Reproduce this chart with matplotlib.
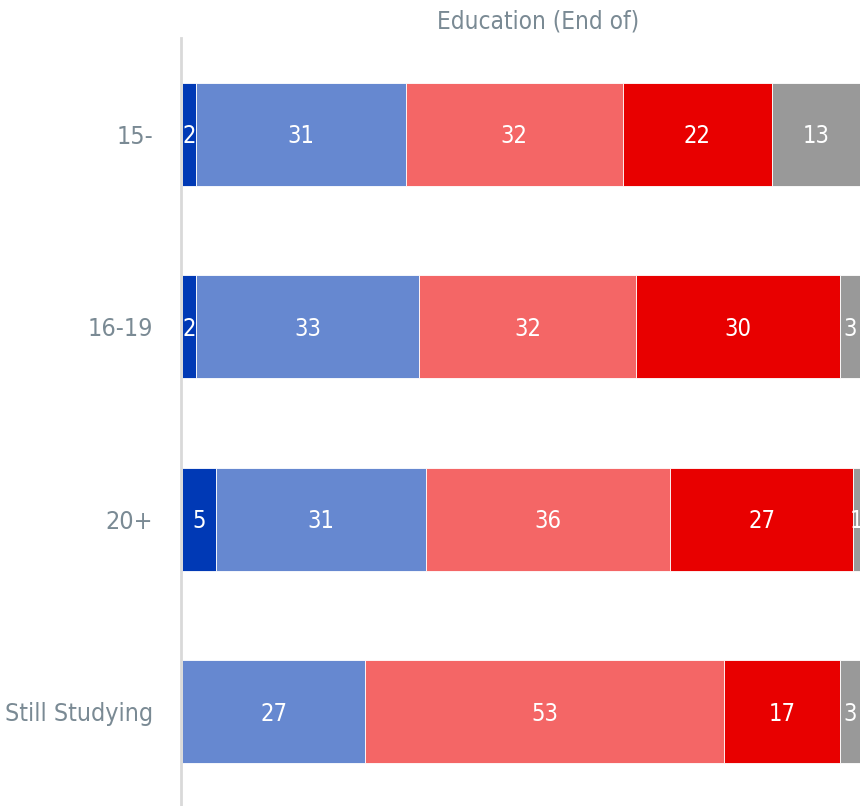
import matplotlib
matplotlib.use("Agg")
import matplotlib.pyplot as plt
from matplotlib import font_manager as fm

names = {f.name for f in fm.fontManager.ttflist}
FONT = "Liberation Sans Narrow" if "Liberation Sans Narrow" in names else "DejaVu Sans"
plt.rcParams['font.family'] = [FONT, 'DejaVu Sans']
plt.rcParams['font.stretch'] = 'condensed'

categories = ["15-", "16-19", "20+", "Still Studying"]
series_names = ["s1", "s2", "s3", "s4", "s5"]
values = [
    [2, 2, 5, 0],
    [31, 33, 31, 27],
    [32, 32, 36, 53],
    [22, 30, 27, 17],
    [13, 3, 1, 3],
]
colors = ["#0039b5", "#6688d0", "#f46666", "#e80000", "#999999"]
title = "Education (End of)"
text_color = "#7a8a94"

W, H = 868, 806
fig = plt.figure(figsize=(W / 100, H / 100), dpi=100)
ax = fig.add_axes([182 / W, -2 / H, (860 - 182) / W, (806 - 38 + 2) / H])

ypos = list(range(len(categories)))
left = [0] * len(categories)
for vals, col in zip(values, colors):
    ax.barh(ypos, vals, left=left, height=0.535, color=col, edgecolor="white", linewidth=0.6)
    for y, v, l in zip(ypos, vals, left):
        if v > 0:
            ax.text(l + v / 2, y + 0.01, str(v), ha="center", va="center", color="white",
                    fontsize=17, fontstretch="condensed")
    left = [a + b for a, b in zip(left, vals)]

ax.set_xlim(0, 100)
ax.set_ylim(3.5, -0.5)
ax.set_yticks(ypos)
ax.set_yticklabels(categories)
ax.tick_params(axis="y", length=0, pad=20, labelsize=18, labelcolor=text_color)
for lbl in ax.get_yticklabels():
    lbl.set_fontstretch("condensed")
ax.set_xticks([])
for s in ["top", "right", "bottom"]:
    ax.spines[s].set_visible(False)
ax.spines["left"].set_color("#d9d9d9")
ax.spines["left"].set_linewidth(2)
ax.spines["left"].set_position(("outward", 1))

fig.text(538 / W, 1 - 21 / H, title, ha="center", va="center", fontsize=17.5,
         color=text_color, fontstretch="condensed")

fig.savefig("out.png", dpi=100)
